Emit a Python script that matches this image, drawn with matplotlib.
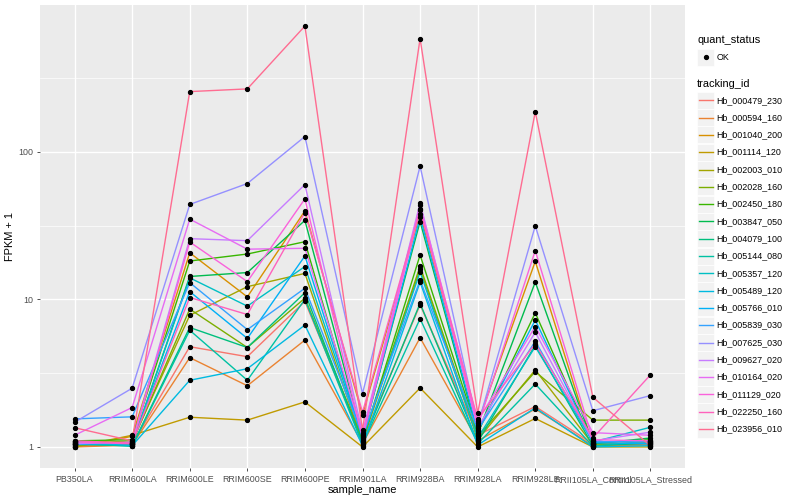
import matplotlib
matplotlib.use("Agg")
import matplotlib.pyplot as plt
from matplotlib.patches import Rectangle
from matplotlib.lines import Line2D
import numpy as np

plt.rcParams['font.family'] = ['Liberation Sans', 'DejaVu Sans']

# ======================
# data
# ======================
samples = ["PB350LA", "RRIM600LA", "RRIM600LE", "RRIM600SE", "RRIM600PE",
           "RRIM901LA", "RRIM928BA", "RRIM928LA", "RRIM928LE",
           "RRII105LA_Control", "RRII105LA_Stressed"]

tracking_ids = ["Hb_000479_230", "Hb_000594_160", "Hb_001040_200", "Hb_001114_120",
                "Hb_002003_010", "Hb_002028_160", "Hb_002450_180", "Hb_003847_050",
                "Hb_004079_100", "Hb_005144_080", "Hb_005357_120", "Hb_005489_120",
                "Hb_005766_010", "Hb_005839_030", "Hb_007625_030", "Hb_009627_020",
                "Hb_010164_020", "Hb_011129_020", "Hb_022250_160", "Hb_023956_010"]

colors = ["#F8766D", "#EA8331", "#D89000", "#C09B00", "#A3A500", "#7CAE00",
          "#39B600", "#00BB4E", "#00BF7D", "#00C1A3", "#00BFC4", "#00BAE0",
          "#00B0F6", "#35A2FF", "#9590FF", "#C77CFF", "#E76BF3", "#FA62DB",
          "#FF62BC", "#FF6C91"]

# FPKM + 1, one row per tracking_id, columns follow samples
fpkm = [
    [1.02, 1.04, 4.78, 4.09, 9.7, 1.10, 9.2, 1.20, 1.88, 1.05, 1.04],
    [1.00, 1.03, 4.03, 2.60, 5.3, 1.05, 5.5, 1.10, 1.81, 1.02, 1.03],
    [1.00, 1.18, 20.7, 10.4, 39.8, 1.65, 38.0, 1.45, 18.1, 1.03, 1.06],
    [1.00, 1.20, 1.59, 1.52, 2.02, 1.00, 2.51, 1.00, 1.56, 1.00, 1.00],
    [1.05, 1.10, 7.8, 12.2, 15.0, 1.08, 16.0, 1.12, 3.33, 1.04, 1.08],
    [1.03, 1.07, 8.6, 4.72, 10.2, 1.12, 16.8, 1.18, 3.24, 1.52, 1.52],
    [1.10, 1.12, 18.2, 20.3, 24.6, 1.10, 20.0, 1.25, 8.1, 1.06, 1.12],
    [1.07, 1.04, 14.3, 15.2, 34.3, 1.18, 33.7, 1.22, 13.1, 1.05, 1.15],
    [1.04, 1.02, 6.45, 4.72, 11.1, 1.06, 9.4, 1.08, 4.9, 1.02, 1.06],
    [1.06, 1.01, 6.18, 2.83, 10.0, 1.04, 7.4, 1.05, 2.67, 1.01, 1.10],
    [1.08, 1.05, 14.0, 9.0, 16.7, 1.14, 15.3, 1.15, 4.78, 1.08, 1.36],
    [1.09, 1.02, 2.83, 3.39, 6.7, 1.02, 13.1, 1.03, 1.84, 1.00, 1.02],
    [1.04, 1.06, 11.3, 5.44, 19.7, 1.16, 36.0, 1.28, 7.25, 1.07, 1.05],
    [1.55, 1.60, 13.0, 6.24, 11.9, 1.20, 13.5, 1.30, 5.2, 1.09, 1.08],
    [1.47, 2.50, 44.0, 61.0, 127.0, 2.30, 80.0, 1.40, 31.5, 1.76, 2.23],
    [1.05, 1.08, 25.8, 25.0, 60.0, 1.25, 45.0, 1.35, 6.0, 1.10, 1.26],
    [1.20, 1.85, 35.0, 21.9, 22.2, 1.22, 43.3, 1.50, 6.55, 1.25, 1.20],
    [1.08, 1.05, 24.5, 13.2, 48.0, 1.15, 41.0, 1.38, 21.4, 1.12, 1.10],
    [1.10, 1.06, 10.3, 7.9, 38.8, 1.72, 40.1, 1.55, 5.0, 1.15, 3.08],
    [1.35, 1.10, 256.0, 267.0, 712.0, 1.30, 586.0, 1.69, 187.0, 2.17, 1.02],
]

# ======================
# plot
# ======================
fig = plt.figure(figsize=(8, 5), dpi=100)
ax = fig.add_axes([40 / 800, 1 - 468 / 500, 645 / 800, 463 / 500])
ax.set_facecolor("#EBEBEB")

x = np.arange(len(samples))
for vals, c in zip(fpkm, colors):
    ax.plot(x, vals, color=c, lw=1.0, zorder=2)
for vals in fpkm:
    ax.plot(x, vals, ls="none", marker="o", ms=2.8, color="black", zorder=3)

ax.set_yscale("log")
lo, hi = np.log10(1.0), np.log10(712.0)
pad = (hi - lo) * 0.05
ax.set_ylim(10 ** (lo - pad), 10 ** (hi + pad))
ax.set_xlim(-0.6, len(samples) - 0.4)

ax.set_yticks([1, 10, 100])
ax.set_yticklabels(["1", "10", "100"])
ax.set_yticks([10 ** 0.5, 10 ** 1.5, 10 ** 2.5], minor=True)
ax.yaxis.set_minor_formatter(plt.NullFormatter())
ax.set_xticks(x)
ax.set_xticklabels(samples)

ax.grid(which="major", color="white", lw=1.0, zorder=0)
ax.grid(which="minor", axis="y", color="white", lw=0.5, zorder=0)
ax.set_axisbelow(True)
for s in ax.spines.values():
    s.set_visible(False)
ax.tick_params(which="major", length=2.5, width=0.6, color="#333333",
               labelsize=6.4, labelcolor="#4D4D4D", pad=2.5)
ax.tick_params(which="minor", length=0)

ax.set_xlabel("sample_name", fontsize=7.9, labelpad=0.5)
ax.set_ylabel("FPKM + 1", fontsize=7.9, labelpad=2)

# ======================
# legend (pixel coords)
# ======================
lg = fig.add_axes([0, 0, 1, 1])
lg.set_xlim(0, 800)
lg.set_ylim(500, 0)
lg.axis("off")

lg.text(697, 40, "quant_status", fontsize=7.9, va="center", ha="left")
lg.add_patch(Rectangle((697, 48.5), 17, 17, facecolor="#F2F2F2", edgecolor="white", lw=0.5))
lg.plot([705.5], [57], marker="o", ms=2.8, color="black")
lg.text(716.5, 57, "OK", fontsize=6.4, va="center", ha="left")

lg.text(697, 84, "tracking_id", fontsize=7.9, va="center", ha="left")
for i, (tid, c) in enumerate(zip(tracking_ids, colors)):
    yc = 100.3 + i * 17.3
    lg.add_patch(Rectangle((697, yc - 8.5), 17, 17, facecolor="#F2F2F2", edgecolor="white", lw=0.5))
    lg.add_line(Line2D([698.5, 712.5], [yc, yc], color=c, lw=1.0))
    lg.text(716.5, yc, tid, fontsize=6.4, va="center", ha="left")

fig.savefig("out.png", dpi=100)
